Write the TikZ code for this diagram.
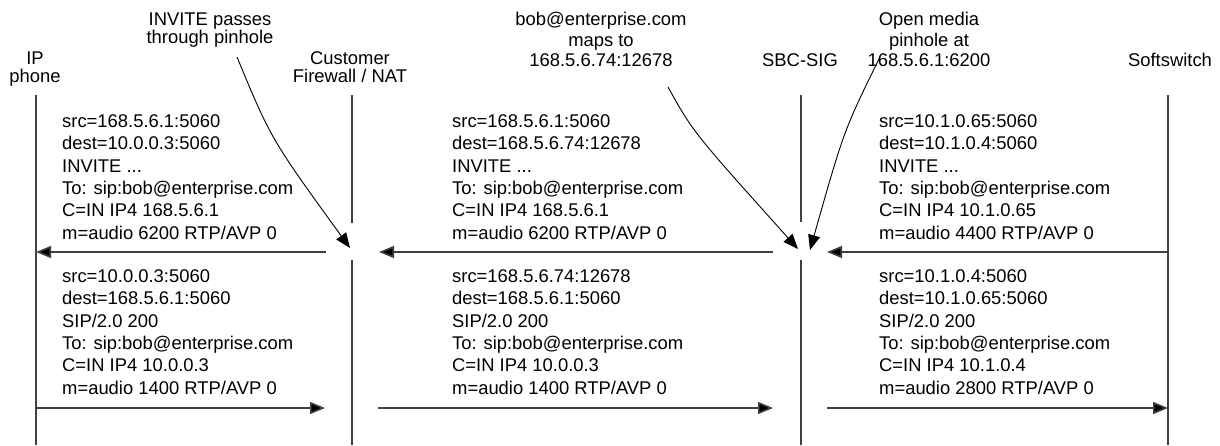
\documentclass[tikz,border=0pt]{standalone}
\usepackage{fontspec}
\setmainfont{Liberation Sans}
\usetikzlibrary{arrows.meta}
\begin{document}
\begin{tikzpicture}[x=1pt,y=-1pt,
  lifeline/.style={draw=black!75, line width=1.4pt},
  msg/.style={draw=black!75, line width=1.6pt, -{Triangle[length=15pt,width=12pt,fill=black]}},
  pointer/.style={draw=black, line width=0.9pt, -{Triangle[length=15pt,width=12pt]}},
  body/.style={inner sep=0pt, anchor=base west, align=left, font=\fontsize{18.4}{22.3}\selectfont},
  lbl/.style={inner sep=0pt, anchor=base, align=center, font=\fontsize{18.4}{18}\selectfont},
  lblthree/.style={lbl, font=\fontsize{18.4}{20.5}\selectfont},
]
\useasboundingbox (0,0) rectangle (1220,445);

% headers (anchor = baseline of the last line)
\node[lbl] (phone) at (35,82.5) {IP\\phone};
\node[lbl] (fw) at (350,82.5) {Customer\\Firewall / NAT};
\node[lbl] (sbc) at (800,66.5) {SBC-SIG};
\node[lbl] (soft) at (1170,66.5) {Softswitch};

% notes
\node[lbl] (n1) at (210,43.5) {INVITE passes\\through pinhole};
\node[lblthree] (n2) at (601,66.5) {bob@enterprise.com\\maps to\\168.5.6.74:12678};
\node[lblthree] (n3) at (929,66.5) {Open media\\pinhole at\\168.5.6.1:6200};

% lifelines
\coordinate (phT) at (36,95);   \coordinate (phB) at (36,445);
\coordinate (fwT) at (352,95);  \coordinate (fwM1) at (352,223);
\coordinate (fwM2) at (352,260); \coordinate (fwB) at (352,445);
\coordinate (sbT) at (801,95);  \coordinate (sbM1) at (801,222);
\coordinate (sbM2) at (801,260); \coordinate (sbB) at (801,445);
\coordinate (swT) at (1168,95); \coordinate (swB) at (1168,445);
\draw[lifeline] (phT) -- (phB);
\draw[lifeline] (fwT) -- (fwM1);
\draw[lifeline] (fwM2) -- (fwB);
\draw[lifeline] (sbT) -- (sbM1);
\draw[lifeline] (sbM2) -- (sbB);
\draw[lifeline] (swT) -- (swB);

% message endpoints
\coordinate (a1s) at (1168,252); \coordinate (a1e) at (827,252);
\coordinate (a2s) at (773,252);  \coordinate (a2e) at (379,252);
\coordinate (a3s) at (326,252);  \coordinate (a3e) at (36,252);
\coordinate (b1s) at (36,408);   \coordinate (b1e) at (325,408);
\coordinate (b2s) at (378,408);  \coordinate (b2e) at (773,408);
\coordinate (b3s) at (827,408);  \coordinate (b3e) at (1168,408);
\draw[msg] (a1s) -- (a1e);
\draw[msg] (a2s) -- (a2e);
\draw[msg] (a3s) -- (a3e);
\draw[msg] (b1s) -- (b1e);
\draw[msg] (b2s) -- (b2e);
\draw[msg] (b3s) -- (b3e);

% message texts (anchor = baseline of the last line)
\node[body] (t1) at (62,239) {src=168.5.6.1:5060\\dest=10.0.0.3:5060\\INVITE ...\\To: sip:bob@enterprise.com\\C=IN IP4 168.5.6.1\\m=audio 6200 RTP/AVP 0};
\node[body] (t2) at (452,239) {src=168.5.6.1:5060\\dest=168.5.6.74:12678\\INVITE ...\\To: sip:bob@enterprise.com\\C=IN IP4 168.5.6.1\\m=audio 6200 RTP/AVP 0};
\node[body] (t3) at (879,239) {src=10.1.0.65:5060\\dest=10.1.0.4:5060\\INVITE ...\\To: sip:bob@enterprise.com\\C=IN IP4 10.1.0.65\\m=audio 4400 RTP/AVP 0};
\node[body] (u1) at (62,394) {src=10.0.0.3:5060\\dest=168.5.6.1:5060\\SIP/2.0 200\\To: sip:bob@enterprise.com\\C=IN IP4 10.0.0.3\\m=audio 1400 RTP/AVP 0};
\node[body] (u2) at (452,394) {src=168.5.6.74:12678\\dest=168.5.6.1:5060\\SIP/2.0 200\\To: sip:bob@enterprise.com\\C=IN IP4 10.0.0.3\\m=audio 1400 RTP/AVP 0};
\node[body] (u3) at (879,394) {src=10.1.0.4:5060\\dest=10.1.0.65:5060\\SIP/2.0 200\\To: sip:bob@enterprise.com\\C=IN IP4 10.1.0.4\\m=audio 2800 RTP/AVP 0};

% pointers
\coordinate (p1s) at (237,57);  \coordinate (p1e) at (350,248);
\coordinate (p2s) at (668,87);  \coordinate (p2e) at (798,249);
\coordinate (p3s) at (880,57);  \coordinate (p3e) at (810,250);
\draw[pointer] (p1s) .. controls (271,139) .. (p1e);
\draw[pointer] (p2s) .. controls (693,132) .. (p2e);
\draw[pointer] (p3s) .. controls (844,130) .. (p3e);
\end{tikzpicture}
\end{document}
